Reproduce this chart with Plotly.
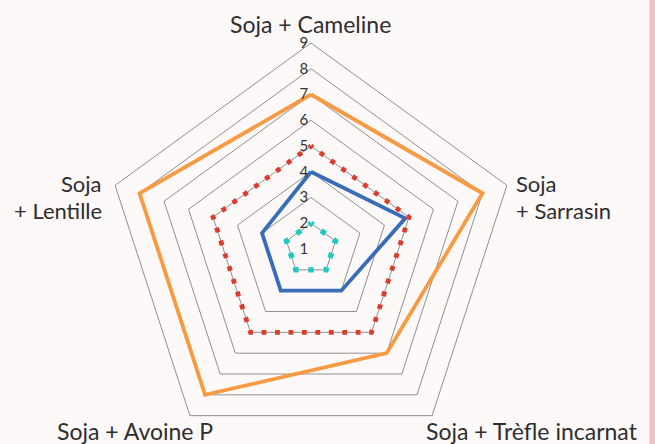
import math
import plotly.graph_objects as go

# ---------------- data ----------------
categories = ["Soja + Cameline", "Soja + Sarrasin", "Soja + Trèfle incarnat",
              "Soja + Avoine P", "Soja + Lentille"]
orange_vals = [7, 8, 6, 8, 8]
blue_vals = [4, 4.85, 3, 3, 3]
red_vals = [5, 5, 5, 5, 5]
cyan_vals = [2, 2, 2, 2, 2]
tick_vals = [1, 2, 3, 4, 5, 6, 7, 8, 9]
tick_text = ["1", "2", "3", "4", "5", "6", "7", "8", "9"]

# ---------------- layout geometry (pixels) ----------------
W, H = 655, 498          # page window is 655x444; extra height keeps centre placement
CX, CY = 311, 249        # centre of radar (from top-left)
R = 206                  # outer radius in px
RMIN, RMAX = 1, 9
unit = R / (RMAX - RMIN)

def closed(v):
    return list(v) + [v[0]]

theta = closed(categories)

def dot_dash(value, n_per_edge, d):
    r = (value - RMIN) * unit
    edge = 2 * r * math.sin(math.pi / 5)
    period = edge / n_per_edge
    half = d / 2
    gap = period - d
    return f"{half:.2f}px,{gap:.2f}px,{half:.2f}px,0px"

FONT = "Lato"
TXT = "#2e2e2e"

fig = go.Figure()
fig.add_trace(go.Scatterpolar(r=closed(orange_vals), theta=theta, mode="lines",
                              line=dict(color="#F79A42", width=3.8), cliponaxis=False))
fig.add_trace(go.Scatterpolar(r=closed(blue_vals), theta=theta, mode="lines",
                              line=dict(color="#3A6DB9", width=3.8), cliponaxis=False))
fig.add_trace(go.Scatterpolar(r=closed(red_vals), theta=theta, mode="lines",
                              line=dict(color="#DA3C2E", width=4.8,
                                        dash=dot_dash(5, 9, 4.8)), cliponaxis=False))
fig.add_trace(go.Scatterpolar(r=closed(cyan_vals), theta=theta, mode="lines",
                              line=dict(color="#1ECAC3", width=5.4,
                                        dash=dot_dash(2, 2, 5.4)), cliponaxis=False))

fig.update_layout(
    width=W, height=H, autosize=False,
    margin=dict(l=0, r=0, t=0, b=0),
    paper_bgcolor="#FDF9F9",
    showlegend=False,
    font=dict(family=FONT, color=TXT),
    polar=dict(
        domain=dict(x=[(CX - R) / W, (CX + R) / W],
                    y=[(H - CY - R) / H, (H - CY + R) / H]),
        bgcolor="#FDF9F9",
        gridshape="linear",
        angularaxis=dict(rotation=90, direction="clockwise", showgrid=False,
                         showticklabels=False, ticks="", showline=True,
                         linecolor="#8F8F8F", linewidth=1),
        radialaxis=dict(range=[RMIN, RMAX], tickvals=tick_vals, ticktext=tick_text,
                        angle=90, side="counterclockwise", showline=False, ticks="",
                        tickangle=90,
                        gridcolor="#8F8F8F", gridwidth=1,
                        tickfont=dict(family=FONT, size=15, color="#333333")),
    ),
)

# pink strip at right edge
fig.add_shape(type="rect", xref="paper", yref="paper", x0=649.5 / W, x1=1, y0=0, y1=1,
              line=dict(width=0), fillcolor="#F8BEC6", layer="below")

def px2paper(x, y):
    return x / W, 1 - y / H

def add_label(text, x, y, xanchor, size=23):
    px, py = px2paper(x, y)
    fig.add_annotation(text=text, x=px, y=py, xref="paper", yref="paper",
                       xanchor=xanchor, yanchor="middle", showarrow=False,
                       font=dict(family=FONT, size=size, color=TXT))

# top
add_label(categories[0], 310, 24, "center")
# right (two lines)
first, second = categories[1].split(" + ")
add_label(first, 514, 184, "left", 22)
add_label("+ " + second, 514, 211, "left", 22)
# left (two lines)
first, second = categories[4].split(" + ")
add_label(first, 104, 184, "right", 22)
add_label("+ " + second, 104, 211, "right", 22)
# bottom
add_label(categories[3], 135, 431, "center")
add_label(categories[2], 532, 431, "center")

fig.write_html("out.html", config={"displayModeBar": False},
               post_script="document.body.style.margin='0';document.body.style.overflow='hidden';")
